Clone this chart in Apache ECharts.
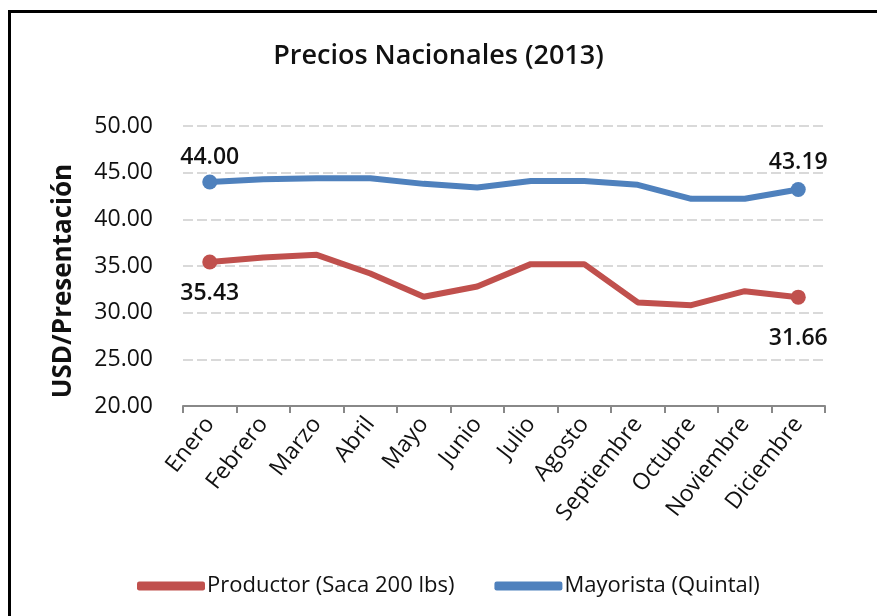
<!DOCTYPE html>
<html>
<head>
<meta charset="utf-8">
<script src="https://cdn.jsdelivr.net/npm/echarts@6/dist/echarts.min.js"></script>
<style>
  html, body { margin: 0; padding: 0; background: #fff; }
  #frame {
    position: absolute; left: 8px; top: 10px; width: 880px; height: 620px;
    border-left: 3px solid #000; border-top: 3px solid #000; box-sizing: border-box;
  }
  #chart { position: absolute; left: 0; top: 0; width: 877px; height: 616px; }
</style>
</head>
<body>
<div id="frame"></div>
<div id="chart"></div>
<script>
const meses = ['Enero', 'Febrero', 'Marzo', 'Abril', 'Mayo', 'Junio', 'Julio',
  'Agosto', 'Septiembre', 'Octubre', 'Noviembre', 'Diciembre']
// Productor (Saca 200 lbs)
const productor = [35.43, 35.9, 36.2, 34.2, 31.7, 32.8, 35.2, 35.2, 31.1, 30.8, 32.3, 31.66]
// Mayorista (Quintal)
const mayorista = [44.0, 44.3, 44.4, 44.4, 43.8, 43.4, 44.1, 44.1, 43.7, 42.2, 42.2, 43.19]

const fuente = '"Open Sans", "Noto Sans", sans-serif'

// solo se marcan y etiquetan el primer y el ultimo mes
function extremos(valores, pos, dist) {
  return valores.map((v, i) => {
    const ultimo = i === valores.length - 1
    const borde = i === 0 || ultimo
    return {
      value: v,
      symbolSize: borde ? 15 : 0,
      label: {
        show: borde,
        position: pos,
        distance: ultimo ? dist[1] : dist[0],
        formatter: (p) => p.value.toFixed(2),
        fontFamily: fuente,
        fontSize: 23,
        fontWeight: 600,
        color: '#111'
      }
    }
  })
}

const chart = echarts.init(document.getElementById('chart'))
chart.setOption({
  animation: false,
  title: {
    text: 'Precios Nacionales (2013)',
    left: 'center',
    top: 38,
    textStyle: { fontFamily: fuente, fontSize: 27, fontWeight: 600, color: '#111' }
  },
  legend: {
    top: 570,
    left: 132,
    itemWidth: 68,
    itemHeight: 9,
    itemGap: 40,
    icon: 'roundRect',
    textStyle: { fontFamily: fuente, fontSize: 22, color: '#111', padding: [0, 0, 0, -3] },
    data: ['Productor (Saca 200 lbs)', 'Mayorista (Quintal)']
  },
  grid: { left: 183, right: 52, top: 126, bottom: 210 },
  xAxis: {
    type: 'category',
    data: meses,
    boundaryGap: true,
    axisLine: { lineStyle: { color: '#888', width: 2 } },
    axisTick: { show: true, length: 7, lineStyle: { color: '#888', width: 2 } },
    axisLabel: {
      rotate: 52,
      margin: 14,
      interval: 0,
      fontFamily: fuente,
      fontSize: 23,
      color: '#111'
    }
  },
  yAxis: {
    type: 'value',
    min: 20,
    max: 50,
    interval: 5,
    name: 'USD/Presentación',
    nameLocation: 'middle',
    nameGap: 106,
    nameTextStyle: {
      fontFamily: fuente, fontSize: 26, fontWeight: 'bold', color: '#111',
      padding: [0, 30, 0, 0]
    },
    axisLine: { show: false },
    axisTick: { show: false },
    axisLabel: {
      margin: 30,
      formatter: (v) => v.toFixed(2),
      fontFamily: fuente,
      fontSize: 23,
      color: '#111'
    },
    splitLine: { lineStyle: { color: '#d9d9d9', width: 2, type: [10, 4] } }
  },
  series: [
    {
      name: 'Productor (Saca 200 lbs)',
      type: 'line',
      data: extremos(productor, 'bottom', [12, 22]),
      symbol: 'circle',
      color: '#c0504d',
      lineStyle: { width: 6, color: '#c0504d' }
    },
    {
      name: 'Mayorista (Quintal)',
      type: 'line',
      data: extremos(mayorista, 'top', [6, 8]),
      symbol: 'circle',
      color: '#4f81bd',
      lineStyle: { width: 6, color: '#4f81bd' }
    }
  ]
})
</script>
</body>
</html>
